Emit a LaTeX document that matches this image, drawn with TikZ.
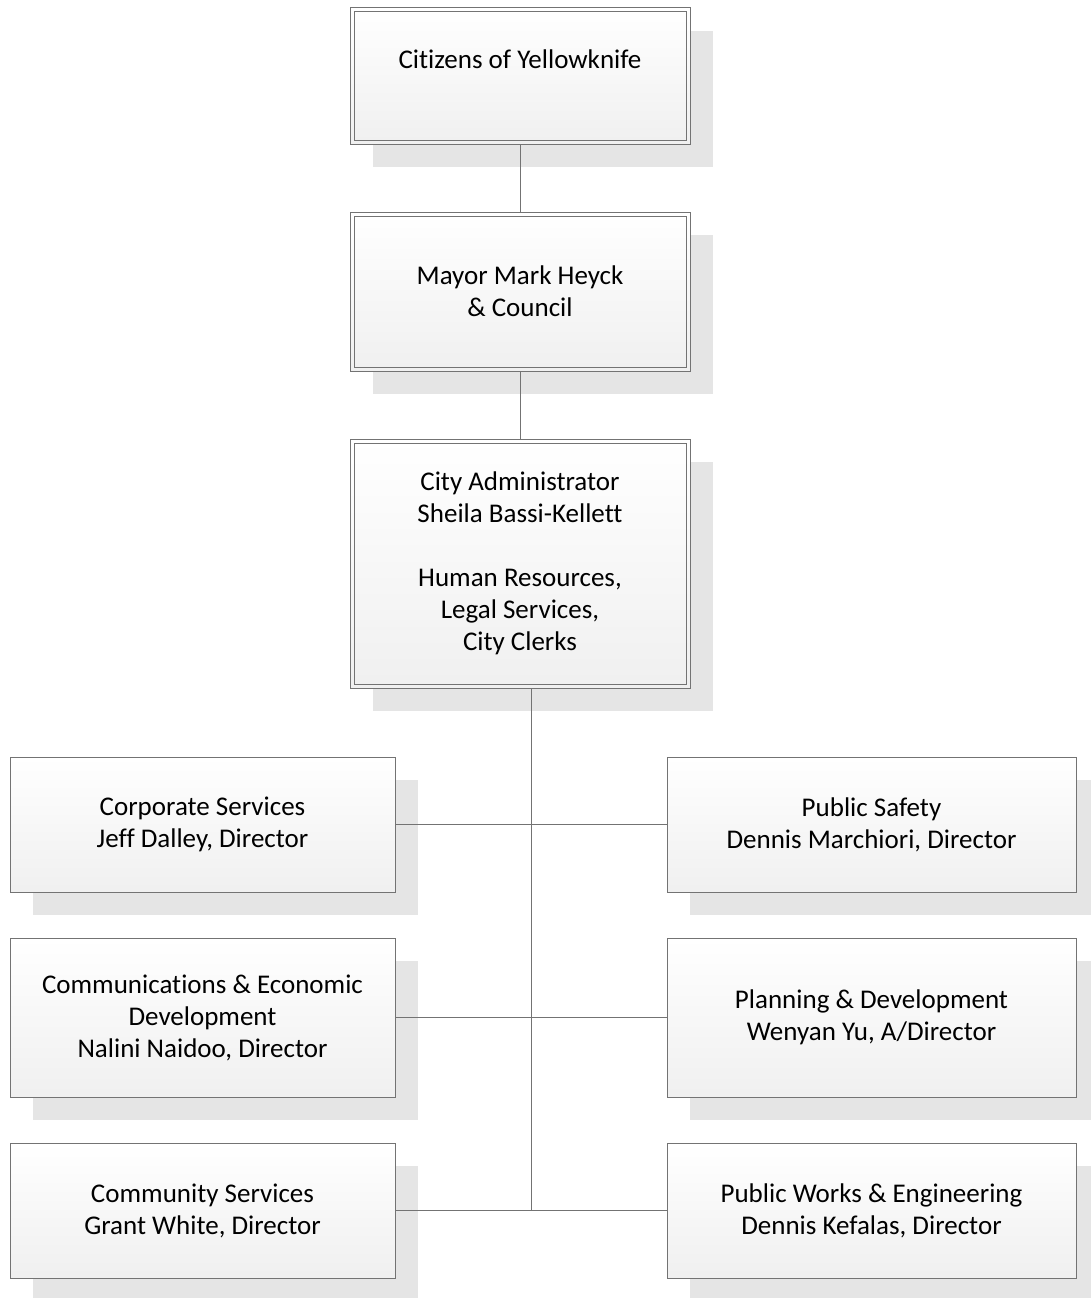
\documentclass[tikz,border=0pt]{standalone}
\usepackage{fontspec}
\setmainfont[Ligatures=NoCommon]{Carlito}
\usetikzlibrary{shadows}
\begin{document}
\begin{tikzpicture}[x=1pt,y=-1pt,
  boxline/.style={draw=black!55, line width=1pt},
  orgbox/.style={boxline, rectangle, inner sep=0pt, align=center,
    top color=white, bottom color=black!6,
    font=\fontsize{27}{32}\selectfont,
    drop shadow={shadow xshift=23pt, shadow yshift=-23pt, fill=black!10, opacity=1}},
  topbox/.style={orgbox, minimum width=340pt},
  leftbox/.style={orgbox, minimum width=385pt},
  rightbox/.style={orgbox, minimum width=409pt},
  conn/.style={draw=black!55, line width=1pt}
]
\clip (0,0) rectangle (1091,1298);
\fill[white] (0,0) rectangle (1091,1298);

\node[topbox, minimum height=136pt] (cit) at (520,76) {Citizens of Yellowknife\\[-8pt] \strut};
\node[topbox, minimum height=159pt] (mayor) at (520,291.5) {Mayor Mark Heyck\\ \& Council};
\node[topbox, minimum height=249pt] (admin) at (520,563.5) {City Administrator\\Sheila Bassi-Kellett\\ \strut\\Human Resources,\\Legal Services,\\City Clerks};

\foreach \n in {cit,mayor,admin}
  \draw[boxline] ([shift={(4.5pt,-4.5pt)}]\n.north west) rectangle ([shift={(-4.5pt,4.5pt)}]\n.south east);

\node[leftbox, minimum height=135pt] (corp) at (202.5,824.5) {Corporate Services\\Jeff Dalley, Director};
\node[leftbox, minimum height=159pt] (comm) at (202.5,1017.5) {Communications \& Economic\\Development\\Nalini Naidoo, Director};
\node[leftbox, minimum height=135pt] (cs) at (202.5,1210.5) {Community Services\\Grant White, Director};

\node[rightbox, minimum height=135pt] (ps) at (871.5,824.5) {Public Safety\\Dennis Marchiori, Director};
\node[rightbox, minimum height=159pt] (pd) at (871.5,1017.5) {Planning \& Development\\Wenyan Yu, A/Director};
\node[rightbox, minimum height=135pt] (pw) at (871.5,1210.5) {Public Works \& Engineering\\Dennis Kefalas, Director};

\draw[conn] (cit.south) -- (mayor.north);
\draw[conn] (mayor.south) -- (admin.north);
\coordinate (trunktop) at ([xshift=11pt]admin.south);
\coordinate (trunkend) at (trunktop |- cs.east);
\draw[conn] (trunktop) -- (trunkend);
\draw[conn] (corp.east) -- (ps.west);
\draw[conn] (comm.east) -- (pd.west);
\draw[conn] (cs.east) -- (pw.west);
\end{tikzpicture}
\end{document}
